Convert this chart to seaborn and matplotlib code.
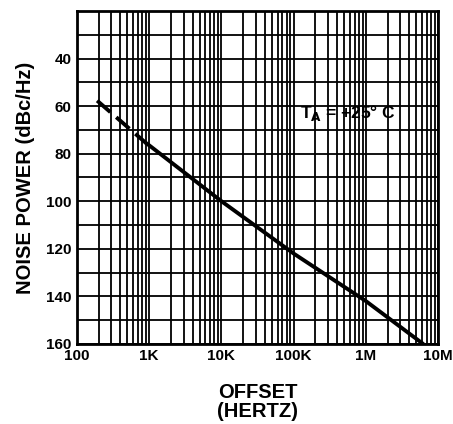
import matplotlib
matplotlib.use("Agg")
import matplotlib.pyplot as plt
import seaborn as sns
import pandas as pd
import numpy as np
from matplotlib.ticker import FixedLocator, NullFormatter

sns.set_theme(style="white")
plt.rcParams['font.family'] = ['Liberation Sans', 'DejaVu Sans']
plt.rcParams['font.weight'] = 'bold'
plt.rcParams['text.color'] = 'black'
plt.rcParams['axes.labelcolor'] = 'black'

# Data
dashed_freq = [190, 900]
dashed_noise = [57.7, 75.5]
solid_freq = [900, 1e3, 1e4, 1e5, 1e6, 6.2e6]
solid_noise = [75.5, 76.5, 100, 122, 142, 160]

x_ticks = [1e2, 1e3, 1e4, 1e5, 1e6, 1e7]
x_labels = ["100", "1K", "10K", "100K", "1M", "10M"]
y_ticks = [40, 60, 80, 100, 120, 140, 160]

fig = plt.figure(figsize=(4.53, 4.24), dpi=100)
ax = fig.add_axes([0.170, 0.189, 0.797, 0.785])

df_d = pd.DataFrame({"f": dashed_freq, "n": dashed_noise})
df_s = pd.DataFrame({"f": solid_freq, "n": solid_noise})

ax.set_xscale("log")
ax.set_xlim(1e2, 1e7)
ax.set_ylim(160, 20)

# grid
minor = [m * 10**e for e in range(2, 7) for m in range(2, 10)]
ax.xaxis.set_major_locator(FixedLocator(x_ticks))
ax.xaxis.set_minor_locator(FixedLocator(minor))
ax.xaxis.set_minor_formatter(NullFormatter())
ax.set_xticks(x_ticks)
ax.set_xticklabels(x_labels)
ax.set_yticks(y_ticks)
ax.set_yticks(np.arange(20, 161, 10), minor=True)
ax.grid(True, which="both", color="black", linewidth=1.3)
ax.set_axisbelow(True)

sns.lineplot(data=df_d, x="f", y="n", ax=ax, color="black", linewidth=2.8,
             linestyle=(0, (4.5, 2)), sort=False)
sns.lineplot(data=df_s, x="f", y="n", ax=ax, color="black", linewidth=2.8, sort=False)

ax.set_xlim(1e2, 1e7)
ax.set_ylim(160, 20)

for s in ax.spines.values():
    s.set_color("black")
    s.set_linewidth(2)

ax.tick_params(axis="both", which="both", length=0, labelsize=11, pad=4,
               colors="black", labelcolor="black")
for lab in ax.get_xticklabels() + ax.get_yticklabels():
    lab.set_fontweight("bold")

ax.set_xlabel("OFFSET\n(HERTZ)", fontsize=14.5, fontweight="bold", labelpad=14,
              linespacing=1.0, color="black")
ax.set_ylabel("NOISE POWER (dBc/Hz)", fontsize=14.5, fontweight="bold", labelpad=8,
              color="black")

ax.text(5.6e5, 63, "T$_{\\mathbf{A}}$ = +25° C", fontsize=12.5, fontweight="bold",
        color="black", ha="center", va="center")

fig.savefig("out.png", dpi=100)
